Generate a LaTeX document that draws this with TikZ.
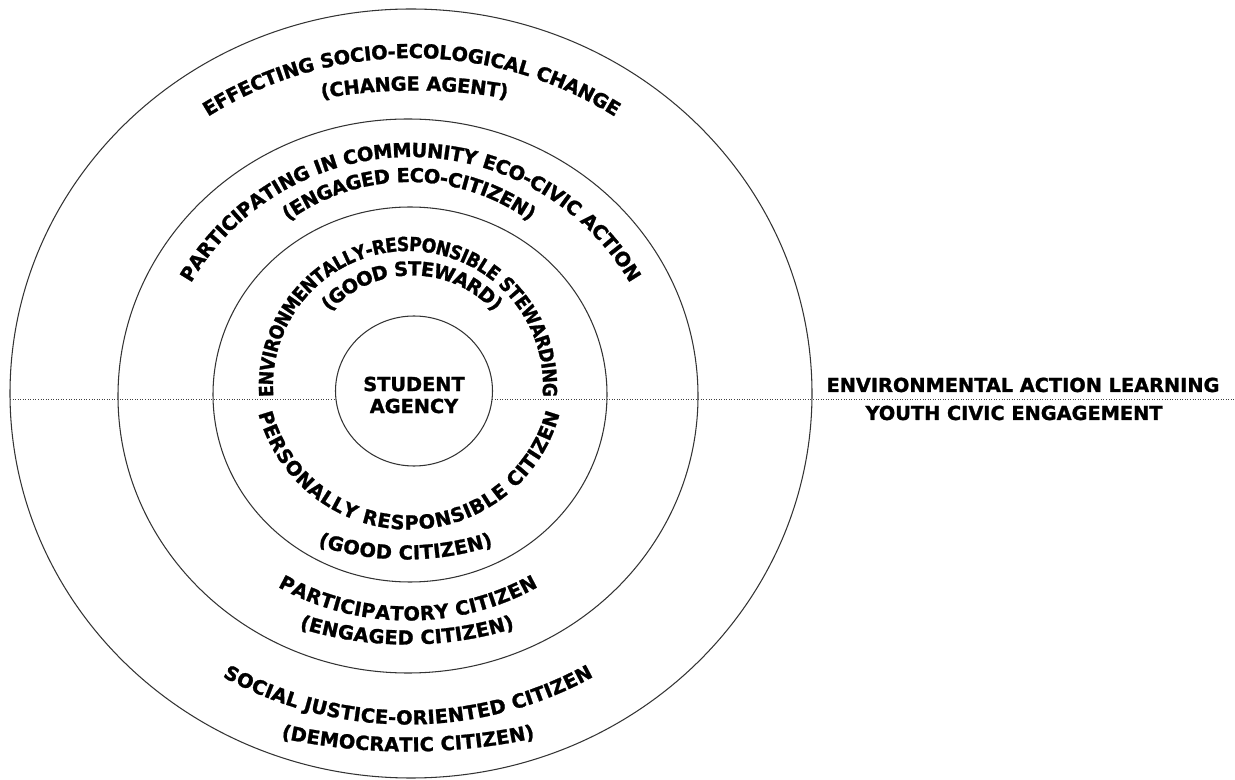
\documentclass[tikz,border=0pt]{standalone}
\usepackage{fontspec}
\setmainfont{DejaVu Sans}[BoldFeatures={FakeBold=1.3}]
\newfontfamily\narrowfam{DejaVu Sans}[FakeStretch=0.89, BoldFeatures={FakeBold=1.3}]
\usetikzlibrary{decorations.text}

\newcommand\lblfont{\fontsize{11}{12.5}\selectfont\bfseries}
\newcommand\lblnarrow{\narrowfam\fontsize{11}{12.5}\selectfont\bfseries}

\tikzset{
  ring/.style={draw=black!80, line width=0.6pt},
  axis/.style={draw=black!75, densely dotted, line width=0.45pt},
  arc label/.style={decorate, decoration={text along path, text align=center, raise=-4pt, text={|\lblfont|#1}}},
  arc label narrow/.style={decorate, decoration={text along path, text align=center, raise=-4pt, text={|\lblnarrow|#1}}},
  side label/.style={font=\lblfont, anchor=base, inner sep=0pt}
}

\begin{document}
\begin{tikzpicture}[x=0.02cm, y=0.02cm]
  \useasboundingbox (0,0) rectangle (1235,-780);

  % Circunferencias
  \draw[ring] (411,-393.5) ellipse [x radius=401, y radius=384.5];
  \draw[ring] (408,-396) ellipse [x radius=290, y radius=277];
  \draw[ring] (410,-394.5) ellipse [x radius=197, y radius=187.5];
  \draw[ring] (414,-391) ellipse [x radius=78.5, y radius=75];

  % Linea de puntos
  \coordinate (axisL) at (10,-399);
  \coordinate (axisM1) at (336,-399);
  \coordinate (axisM2) at (492,-399);
  \coordinate (axisR) at (1235,-399);
  \draw[axis] (axisL) -- (axisM1);
  \draw[axis] (axisM2) -- (axisR);

  % Centro
  \node[font=\lblfont, align=center, inner sep=0pt] (agency) at (414,-395) {STUDENT\\AGENCY};

  % Arriba: anillo exterior
  \path[arc label={EFFECTING SOCIO-ECOLOGICAL CHANGE}, shift={(411.5,-440)}]
    (126:389) arc[start angle=126, end angle=54, radius=389];
  \path[arc label={(CHANGE AGENT)}, shift={(414.5,-623.5)}]
    (102:540) arc[start angle=102, end angle=78, radius=540];

  % Arriba: anillo medio
  \path[arc label={PARTICIPATING IN COMMUNITY ECO-CIVIC ACTION}, shift={(410.5,-411)}]
    (155:261) arc[start angle=155, end angle=25, radius=261];
  \path[arc label={(ENGAGED ECO-CITIZEN)}, shift={(409,-388)}]
    (130:213) arc[start angle=130, end angle=50, radius=213];

  % Arriba: anillo interior
  \path[arc label narrow={ENVIRONMENTALLY-RESPONSIBLE STEWARDING}, shift={(408,-386)}]
    (200:142) arc[start angle=200, end angle=-20, radius=142];
  \path[arc label={(GOOD STEWARD)}, shift={(412,-386.4)}]
    (150:118) arc[start angle=150, end angle=30, radius=118];

  % Abajo: anillo interior
  \path[arc label={PERSONALLY RESPONSIBLE CITIZEN}, shift={(409,-373.8)}]
    (185:148.7) arc[start angle=185, end angle=355, radius=148.7];
  \path[arc label={(GOOD CITIZEN)}, shift={(405.5,-278.8)}]
    (240:273.7) arc[start angle=240, end angle=300, radius=273.7];

  % Abajo: anillo medio
  \path[arc label={PARTICIPATORY CITIZEN}, shift={(408,-352.7)}]
    (230:260.8) arc[start angle=230, end angle=310, radius=260.8];
  \path[arc label={(ENGAGED CITIZEN)}, shift={(407,-283)}]
    (245:354.5) arc[start angle=245, end angle=295, radius=354.5];

  % Abajo: anillo exterior
  \path[arc label={SOCIAL JUSTICE-ORIENTED CITIZEN}, shift={(408,-341.7)}]
    (230:375.8) arc[start angle=230, end angle=310, radius=375.8];
  \path[arc label={(DEMOCRATIC CITIZEN)}, shift={(408,-143.5)}]
    (255:601) arc[start angle=255, end angle=285, radius=601];

  % Derecha
  \node[side label] (learning) at (1023,-392) {ENVIRONMENTAL ACTION LEARNING};
  \node[side label] (youth) at (1014,-420) {YOUTH CIVIC ENGAGEMENT};
\end{tikzpicture}
\end{document}
